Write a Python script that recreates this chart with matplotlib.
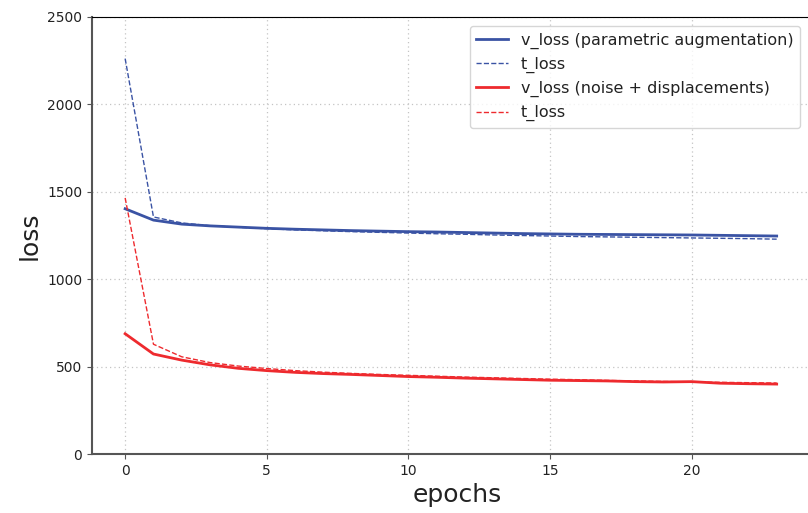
import matplotlib
matplotlib.use("Agg")
from matplotlib import pyplot as plt

epochs = list(range(24))

v_loss_param = [1403, 1338, 1315, 1305, 1298, 1291, 1286, 1282, 1278, 1275, 1272, 1270,
                1267, 1264, 1261, 1259, 1257, 1256, 1255, 1254, 1253, 1251, 1249, 1247]
t_loss_param = [2262, 1356, 1322, 1306, 1297, 1289, 1282, 1277, 1272, 1268, 1264, 1260,
                1257, 1253, 1250, 1247, 1244, 1242, 1240, 1238, 1236, 1234, 1232, 1229]
v_loss_noise = [688, 572, 537, 510, 490, 477, 467, 460, 455, 449, 443, 439,
                434, 430, 426, 422, 420, 418, 414, 412, 414, 405, 402, 400]
t_loss_noise = [1465, 628, 556, 523, 503, 489, 477, 468, 461, 455, 450, 445,
                440, 436, 432, 428, 425, 421, 418, 415, 412, 410, 408, 406]

blue = "#3a53a4"
red = "#ee2a2e"

fig = plt.figure(figsize=(8.08, 5.13), dpi=100)
ax = fig.add_axes([92 / 808, 1 - 454 / 513, 730 / 808, 437 / 513])

ax.plot(epochs, v_loss_param, color=blue, lw=2, label="v_loss (parametric augmentation)")
ax.plot(epochs, t_loss_param, color=blue, lw=1, ls="--", label="t_loss")
ax.plot(epochs, v_loss_noise, color=red, lw=2, label="v_loss (noise + displacements)")
ax.plot(epochs, t_loss_noise, color=red, lw=1, ls="--", label="t_loss")

ax.set_xlim(-1.17, 24.6)
ax.set_ylim(0, 2500)
ax.set_xticks([0, 5, 10, 15, 20])
ax.set_yticks([0, 500, 1000, 1500, 2000, 2500])
ax.grid(True, ls=(0, (1, 2.5)), color="#c4c4c4", lw=0.9)
ax.tick_params(labelsize=10, color="#555555", labelcolor="#222222")
for side in ["left", "bottom"]:
    ax.spines[side].set_color("#555555")
    ax.spines[side].set_linewidth(1.5)
ax.spines["right"].set_visible(False)

ax.set_xlabel("epochs", fontsize=18, color="#222222")
ax.set_ylabel("loss", fontsize=18, color="#222222")

leg = ax.legend(loc="upper right", bbox_to_anchor=(0.97, 0.979), fontsize=11.5,
                handlelength=2.0, labelspacing=0.5, borderaxespad=0)
for t in leg.get_texts():
    t.set_color("#222222")

fig.savefig("out.png", dpi=100)
